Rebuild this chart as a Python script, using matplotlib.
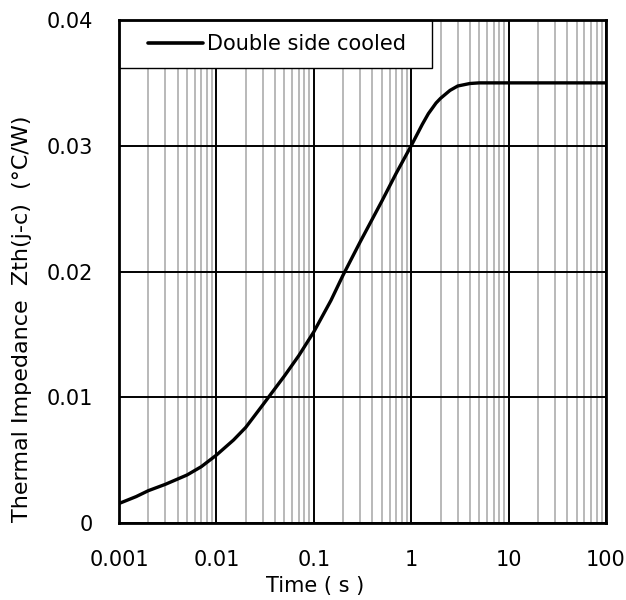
import matplotlib
matplotlib.use("Agg")
import matplotlib.pyplot as plt
from matplotlib.ticker import LogLocator, FixedLocator, NullFormatter
from matplotlib.patches import Rectangle

plt.rcParams['font.family'] = ['DejaVu Sans']

time_s = [0.001, 0.0015, 0.002, 0.003, 0.005, 0.007, 0.01, 0.015, 0.02, 0.03,
          0.05, 0.07, 0.1, 0.15, 0.2, 0.3, 0.5, 0.7, 1.0, 1.3, 1.5, 1.8, 2.0,
          2.5, 3.0, 4.0, 5.0, 10.0, 100.0]
zth = [0.00155, 0.0021, 0.00257, 0.00308, 0.00382, 0.00448, 0.0054, 0.0066,
       0.0076, 0.0094, 0.0117, 0.0133, 0.0152, 0.0177, 0.01972, 0.02237,
       0.0256, 0.0278, 0.0300, 0.0317, 0.03255, 0.0334, 0.03377, 0.0344,
       0.03475, 0.03495, 0.0350, 0.0350, 0.0350]
series_name = "Double side cooled"
x_ticks = [0.001, 0.01, 0.1, 1, 10, 100]
x_ticklabels = ["0.001", "0.01", "0.1", "1", "10", "100"]
y_ticks = [0, 0.01, 0.02, 0.03, 0.04]
y_ticklabels = ["0", "0.01", "0.02", "0.03", "0.04"]

W, H = 626, 600
L, R, T, B = 119, 606, 20, 523
fig = plt.figure(figsize=(W/100, H/100), dpi=100)
ax = fig.add_axes([L/W, 1-B/H, (R-L)/W, (B-T)/H])

ax.set_xscale('log')
ax.set_xlim(0.001, 100)
ax.set_ylim(0, 0.04)

ax.xaxis.set_major_locator(FixedLocator(x_ticks))
ax.set_xticklabels(x_ticklabels)
ax.xaxis.set_minor_locator(LogLocator(base=10, subs=range(2, 10), numticks=20))
ax.xaxis.set_minor_formatter(NullFormatter())
ax.set_yticks(y_ticks)
ax.set_yticklabels(y_ticklabels)

ax.grid(which='minor', axis='x', color='#a6a6a6', linewidth=1.1)
ax.grid(which='major', axis='both', color='black', linewidth=1.4)
ax.set_axisbelow(True)

ax.plot(time_s, zth, color='black', linewidth=2.4, label=series_name,
        solid_capstyle='round', solid_joinstyle='round', zorder=3)

for s in ax.spines.values():
    s.set_linewidth(2.0)
    s.set_color('black')
    s.set_zorder(7)

ax.tick_params(which='both', length=0)
ax.tick_params(axis='y', pad=19, labelsize=15)
ax.tick_params(axis='x', pad=19.5, labelsize=15)

ax.set_xlabel("Time ( s )", fontsize=15)
ax.xaxis.set_label_coords((315-L)/(R-L), -(576-B)/(B-T))
ax.set_ylabel("Thermal Impedance  Zth(j-c)  (°C/W)", fontsize=16)
ax.yaxis.set_label_coords(-(L-32)/(R-L), (B-319)/(B-T))

# legend box (white panel with thin black border)
box = Rectangle((0, (B-68)/(B-T)), (432-L)/(R-L), (68-T)/(B-T),
                transform=ax.transAxes, facecolor='white', edgecolor='black',
                linewidth=1.0, zorder=5, clip_on=False)
ax.add_patch(box)

leg = ax.legend(loc='center left',
                bbox_to_anchor=((148-L)/(R-L), (B-44)/(B-T)),
                borderaxespad=0, borderpad=0, fontsize=15, frameon=False,
                handlelength=2.65, handletextpad=0.2)
leg.set_zorder(6)
for h in leg.get_lines():
    h.set_linewidth(2.6)

fig.savefig("out.png", dpi=100)
